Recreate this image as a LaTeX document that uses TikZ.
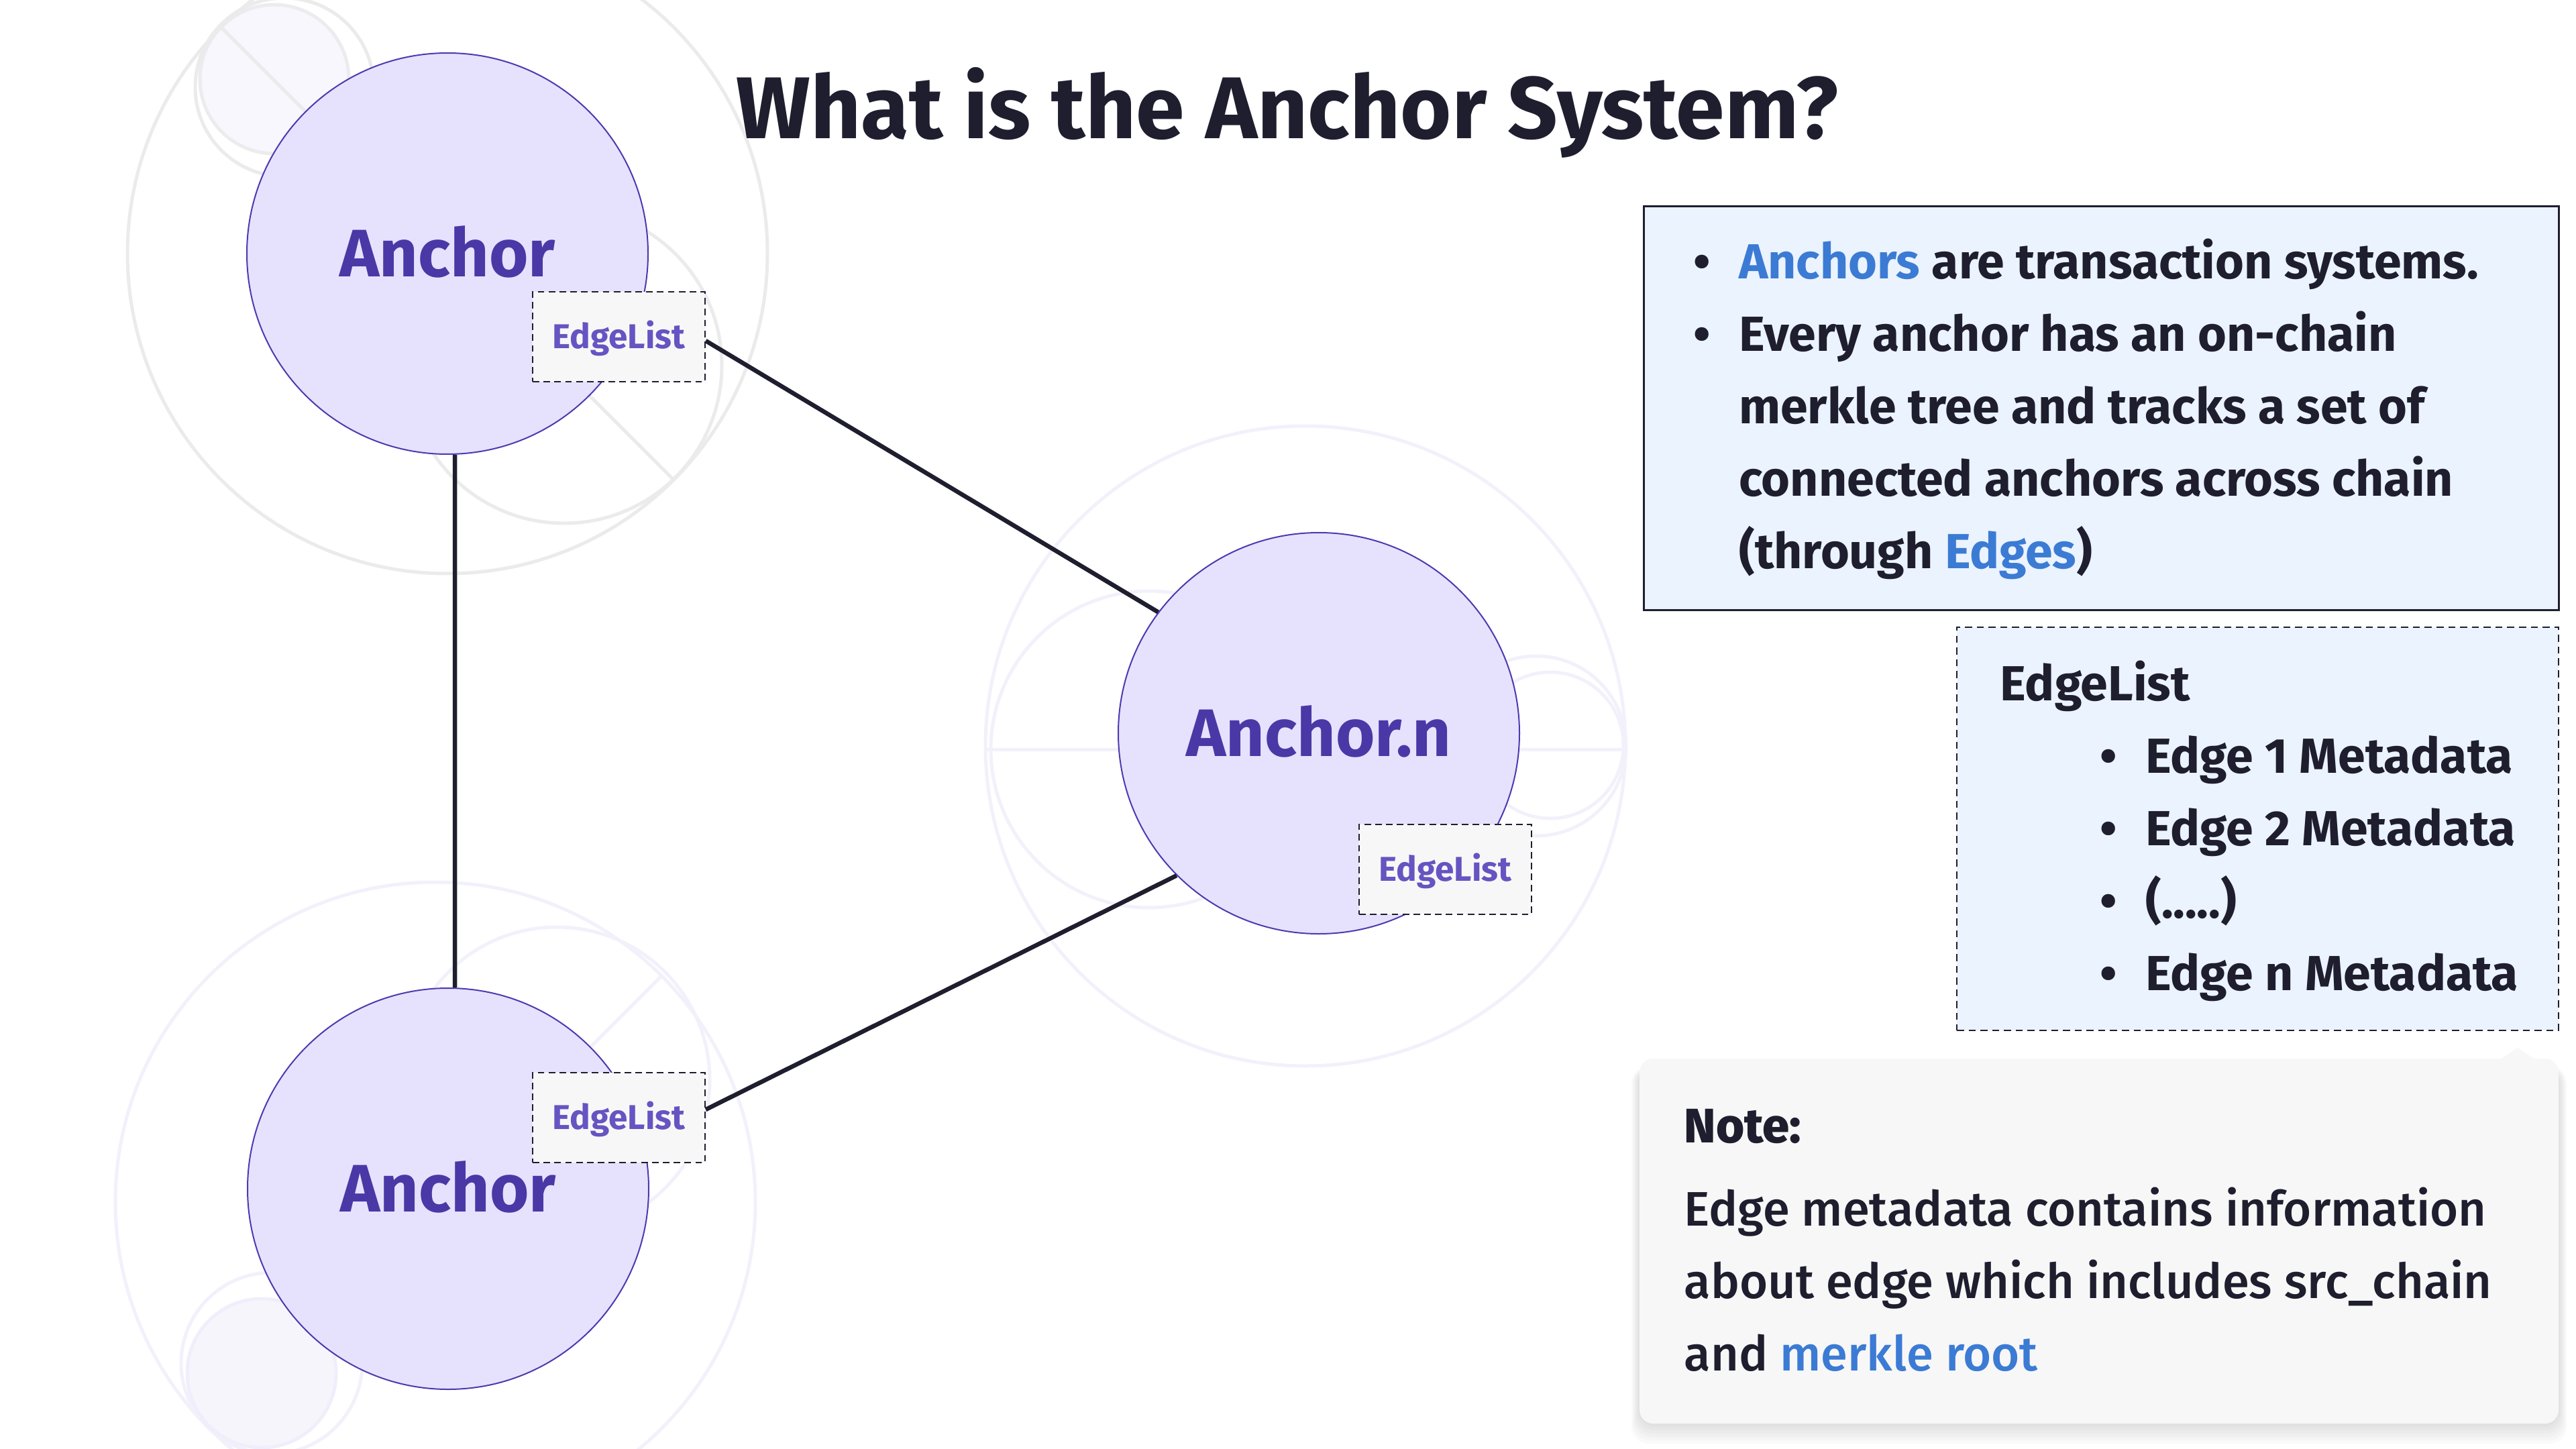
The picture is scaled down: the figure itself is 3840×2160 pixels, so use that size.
\documentclass[tikz,border=0pt]{standalone}
\usepackage{fontspec}
\setmainfont{Fira Sans}
\newfontfamily\mediumfont{Fira Sans Medium}
\definecolor{ink}{HTML}{1E1E2E}
\definecolor{anchorfill}{HTML}{E6E2FD}
\definecolor{anchorline}{HTML}{4B3BB0}
\definecolor{anchortext}{HTML}{4A38A6}
\definecolor{eltext}{HTML}{6654C2}
\definecolor{elfill}{HTML}{F7F7F7}
\definecolor{infofill}{HTML}{EBF3FE}
\definecolor{hl}{HTML}{3B7BD4}
\definecolor{notefill}{HTML}{F7F7F7}
\definecolor{decogrey}{HTML}{EBEBEB}
\definecolor{decolav}{HTML}{F2F1FB}
\newcommand\mybul{\makebox[5.5mm]{\textbullet}\hspace{2.8mm}}
\tikzset{
  decog/.style={draw=decogrey, line width=0.5mm},
  decol/.style={draw=decolav, line width=0.5mm},
  anchorc/.style={circle, draw=anchorline, line width=0.2mm, fill=anchorfill,
    minimum size=59.8mm, inner sep=0pt, text=anchortext,
    font=\fontsize{28.5pt}{34pt}\selectfont\bfseries, text height=19.6pt, text depth=0pt},
  elbox/.style={rectangle, draw=ink, dash pattern=on 2.8pt off 1.8pt, line width=0.2mm,
    fill=elfill, minimum width=25.7mm, minimum height=13.4mm, inner sep=0pt, text=eltext,
    font=\fontsize{14.6pt}{18pt}\selectfont\bfseries, text height=10.1pt, text depth=0pt},
  conn/.style={draw=ink, line width=0.65mm},
  bodytext/.style={anchor=base west, inner sep=0pt, text=ink, align=left},
}
\begin{document}
\begin{tikzpicture}[x=0.1mm, y=-0.1mm]
\useasboundingbox (0,0) rectangle (3840,2160);
% decorative background, top-left
\filldraw[fill=white!40!decolav, draw=decogrey!80!decolav, line width=0.5mm] (409,118) circle[radius=11.1mm];
\draw[decog] (667,378) circle[radius=47.7mm];
\draw[decog] (841,545) circle[radius=23.5mm];
\draw[decog] (424,130) circle[radius=13.3mm];
\draw[decog] (330,41) -- (1004,715);
% decorative background, bottom-left
\draw[decol] (649,1792) circle[radius=47.7mm];
\draw[decol] (830,1610) circle[radius=22.8mm];
\draw[decol] (986,1455) -- (312,2129);
\draw[decol] (405,2032) circle[radius=13.5mm];
\filldraw[fill=white!30!decolav, draw=decolav!80!anchorfill, line width=0.5mm] (390,2047) circle[radius=11.1mm];
% decorative background, middle
\draw[decol] (1946,1112) circle[radius=47.7mm];
\draw[decol] (1469,1117) -- (2423,1117);
\draw[decol] (1713,1117) circle[radius=23.6mm];
\draw[decol] (2290,1112) circle[radius=13.4mm];
\draw[decol] (2311,1111) circle[radius=10.9mm];

% title
\node[anchor=base, inner sep=0pt, text=ink, font=\fontsize{37.2pt}{45pt}\selectfont\bfseries] (title) at (1919,206) {What is the Anchor System?};

% anchors
\node[anchorc] (a1) at (667,378) {Anchor};
\node[anchorc] (a2) at (668,1772) {Anchor};
\node[anchorc] (an) at (1966,1093) {Anchor.n};

\node[elbox] (el1) at (922.5,502) {EdgeList};
\node[elbox] (el2) at (922.5,1666) {EdgeList};
\node[elbox] (el3) at (2154.5,1295.5) {EdgeList};

\draw[conn] ([yshift=-0.6mm]el1.east) -- (an.143);
\draw[conn] ([yshift=1.2mm]el2.east) -- (an.225);
\draw[conn] ([xshift=1.1mm]a1.south) -- ([xshift=1.0mm]a2.north);

% info box
\node[rectangle, draw=ink, line width=0.3mm, fill=infofill, minimum width=136.4mm, minimum height=60.2mm, inner sep=0pt] (info) at (3132,608) {};
\node[bodytext, font=\fontsize{20.9pt}{30.73pt}\selectfont\bfseries] (infotext) at (2508.5,415) {\begin{tabular}[t]{@{}l@{}}
\mybul\textcolor{hl}{Anchors} are transaction systems.\\
\mybul Every anchor has an on-chain\\
\hspace{8.3mm}merkle tree and tracks a set of\\
\hspace{8.3mm}connected anchors across chain\\
\hspace{8.3mm}(through \textcolor{hl}{Edges})
\end{tabular}};

% edgelist box
\node[rectangle, draw=ink, dash pattern=on 3pt off 2pt, line width=0.2mm, fill=infofill, minimum width=89.7mm, minimum height=60.1mm, inner sep=0pt] (elinfo) at (3365.5,1235.5) {};
\node[bodytext, font=\fontsize{20.9pt}{30.73pt}\selectfont\bfseries] (eltextnode) at (2981,1044) {\begin{tabular}[t]{@{}l@{}}
EdgeList\\
\hspace{13.35mm}\mybul Edge 1 Metadata\\
\hspace{13.35mm}\mybul Edge 2 Metadata\\
\hspace{13.35mm}\mybul (.....)\\
\hspace{13.35mm}\mybul Edge n Metadata
\end{tabular}};

% note box with soft shadow
\foreach \i in {1,...,6}{
  \fill[black, opacity=0.02, rounded corners=2.5mm] (2444-\i*2,1590) rectangle (3814+\i*2,2122+\i*5);
}
\node[rectangle, fill=notefill, rounded corners=2mm, minimum width=137mm, minimum height=54.4mm, inner sep=0pt] (note) at (3129,1850) {};
\fill[notefill] (3726,1580) -- (3753,1562) -- (3780,1580) -- cycle;
\node[bodytext, font=\fontsize{20.55pt}{30.73pt}\selectfont\mediumfont] (notetext) at (2510,1703) {\begin{tabular}[t]{@{}l@{}}
{\bfseries Note:}\\[4.8pt]
Edge metadata contains information\\
about edge which includes src\_chain\\
and \textcolor{hl}{merkle root}
\end{tabular}};
\end{tikzpicture}
\end{document}
